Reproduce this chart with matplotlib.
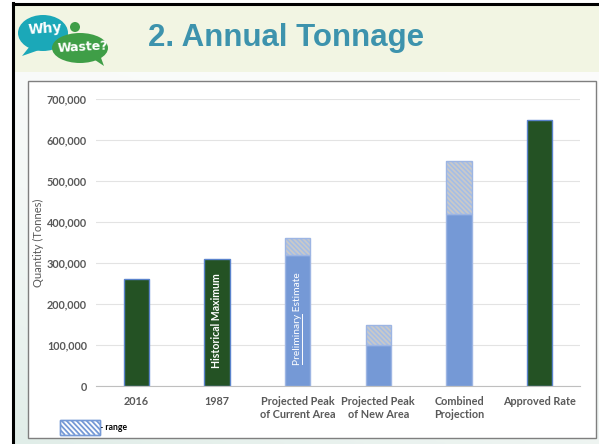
import matplotlib
matplotlib.use("Agg")
import matplotlib.pyplot as plt
from matplotlib.patches import Rectangle, Ellipse, Polygon
import numpy as np

categories = ["2016", "1987", "Projected Peak\nof Current Area", "Projected Peak\nof New Area",
              "Combined\nProjection", "Approved Rate"]
base_values = [260000, 310000, 320000, 100000, 420000, 650000]
range_top = [None, None, 360000, 150000, 550000, None]
is_projection = [False, False, True, True, True, False]
yticks = [0, 100000, 200000, 300000, 400000, 500000, 600000, 700000]

W, H = 599, 444
fig = plt.figure(figsize=(W / 100, H / 100), dpi=100)
plt.rcParams['hatch.linewidth'] = 1.1

# background canvas axes in pixel coords
bg = fig.add_axes([0, 0, 1, 1])
bg.set_xlim(0, W)
bg.set_ylim(H, 0)
bg.axis('off')
grad = np.linspace(0, 1, 200)[:, None] * np.ones((1, 50))
gx = np.linspace(1, 0, 50)[None, :]
img = np.zeros((200, 50, 3))
c1 = np.array([0.985, 0.988, 0.985])
c2 = np.array([0.88, 0.93, 0.91])
t = (grad * 0.7 + gx * 0.3) ** 2
for k in range(3):
    img[:, :, k] = c1[k] * (1 - t) + c2[k] * t
bg.imshow(img, extent=(13, W, H, 72), aspect='auto', zorder=0)
bg.add_patch(Rectangle((13, 4), W - 13, 68, facecolor='#f2f5e3', edgecolor='none', zorder=1))
bg.plot([13, W], [4, 4], color='black', lw=2.2, zorder=3)
bg.plot([13, 13], [3, H], color='black', lw=2.2, zorder=3)
bg.add_patch(Rectangle((27.5, 81.5), 568, 356, facecolor='white', edgecolor='#7f7f7f', lw=1.0, zorder=2))

# logo
teal = '#1ba8b8'
green = '#3f9e47'
bg.add_patch(Ellipse((43, 33), 50, 36, facecolor=teal, edgecolor='none', zorder=4))
bg.add_patch(Polygon([[30, 46], [22, 56], [42, 49]], facecolor=teal, edgecolor='none', zorder=4))
bg.add_patch(Ellipse((80, 48), 56, 30, facecolor=green, edgecolor='none', zorder=5))
bg.add_patch(Polygon([[92, 58], [104, 66], [100, 55]], facecolor=green, edgecolor='none', zorder=5))
bg.add_patch(Ellipse((75, 27), 10, 10, facecolor=green, edgecolor='none', zorder=4))
bg.text(45, 29, "Why", color='white', fontsize=10, fontweight='bold', ha='center', va='center',
        family='DejaVu Sans', zorder=6, rotation=4)
bg.text(83, 47, "Waste?", color='white', fontsize=9, fontweight='bold', ha='center', va='center',
        family='DejaVu Sans', zorder=6, rotation=3)

bg.text(148, 38, "2. Annual Tonnage", color='#3d93ad', fontsize=22.5, fontweight='bold',
        family='Liberation Sans', ha='left', va='center', zorder=6)

# main axes
left, right, top, bottom = 96, 580, 99, 386
ax = fig.add_axes([left / W, 1 - bottom / H, (right - left) / W, (bottom - top) / H])
ax.set_facecolor('none')
ax.set_ylim(0, 700000)
x = np.arange(len(categories))
ax.set_xlim(-0.5, len(categories) - 0.5)

dark = '#245224'
light = '#7599d6'
edge = '#5a83cc'
bw = 0.31
for i in range(len(categories)):
    fc = light if is_projection[i] else dark
    ax.bar(x[i], base_values[i], width=bw, color=fc, edgecolor=edge if not is_projection[i] else '#9db5e3',
           linewidth=1.0, zorder=3)
    if range_top[i] is not None:
        ax.bar(x[i], range_top[i] - base_values[i], bottom=base_values[i], width=bw,
               color='#c9c9c9', edgecolor='#a3bde8', hatch='\\' * 7, linewidth=0, zorder=3)
        ax.bar(x[i], range_top[i] - base_values[i], bottom=base_values[i], width=bw,
               facecolor='none', edgecolor='#9db5e3', linewidth=1.0, zorder=4)

ax.set_yticks(yticks)
ax.set_yticklabels([f"{v:,}" for v in yticks], fontsize=7.8, fontweight='bold', color='#595959',
                   family='Lato')
ax.set_xticks(x)
ax.set_xticklabels(categories, fontsize=7.8, fontweight='bold', color='#595959', family='Lato',
                   linespacing=1.25)
ax.tick_params(length=0, pad=6.5)
ax.tick_params(axis='x', pad=7)
ax.grid(axis='y', color='#e3e3e3', lw=0.8, zorder=0)
for s in ['top', 'right', 'left']:
    ax.spines[s].set_visible(False)
ax.spines['bottom'].set_color('#bfbfbf')
ax.spines['bottom'].set_zorder(5)
ax.set_ylabel("Quantity (Tonnes)", fontsize=8, color='#595959', family='Lato', labelpad=2)

ax.text(1, 160000, "Historical Maximum", rotation=90, color='white', fontsize=7.6, fontweight='bold',
        family='Lato', ha='center', va='center', zorder=6)
t_full = ax.text(2, 165000, "Preliminary Estimate", rotation=90, color='white',
                 fontsize=7.4, family='Lato', ha='center', va='center', zorder=6)
fig.canvas.draw()
r = fig.canvas.get_renderer()
bb_full = t_full.get_window_extent(r)
tmp = ax.text(0, 0, "Preliminary", fontsize=7.4, family='Lato')
w_pre = tmp.get_window_extent(r).width
tmp.remove()
inv = ax.transData.inverted()
x_line_px = bb_full.x1 - 0.3
(xl, yl0) = inv.transform((x_line_px, bb_full.y0 + 0.5))
(_, yl1) = inv.transform((x_line_px, bb_full.y0 + w_pre))
ax.plot([xl, xl], [yl0, yl1], color='white', lw=0.7, zorder=6)

# legend swatch with manual stripes
sw = Rectangle((59.5, 419.5), 40, 15, facecolor='white', edgecolor='#7599d6', lw=1.0, zorder=6)
bg.add_patch(sw)
for x0 in np.arange(40, 110, 5.0):
    ln, = bg.plot([x0, x0 + 15], [419, 435], color='#7599d6', lw=1.3, zorder=7, solid_capstyle='butt')
    ln.set_clip_path(sw)
bg.add_patch(Rectangle((59.5, 419.5), 40, 15, facecolor='none', edgecolor='#7599d6', lw=1.0, zorder=8))
bg.text(100.5, 427, "- range", fontsize=6.2, fontweight='bold', family='Lato', color='black',
        ha='left', va='center', zorder=6)

fig.savefig("out.png", dpi=100)
